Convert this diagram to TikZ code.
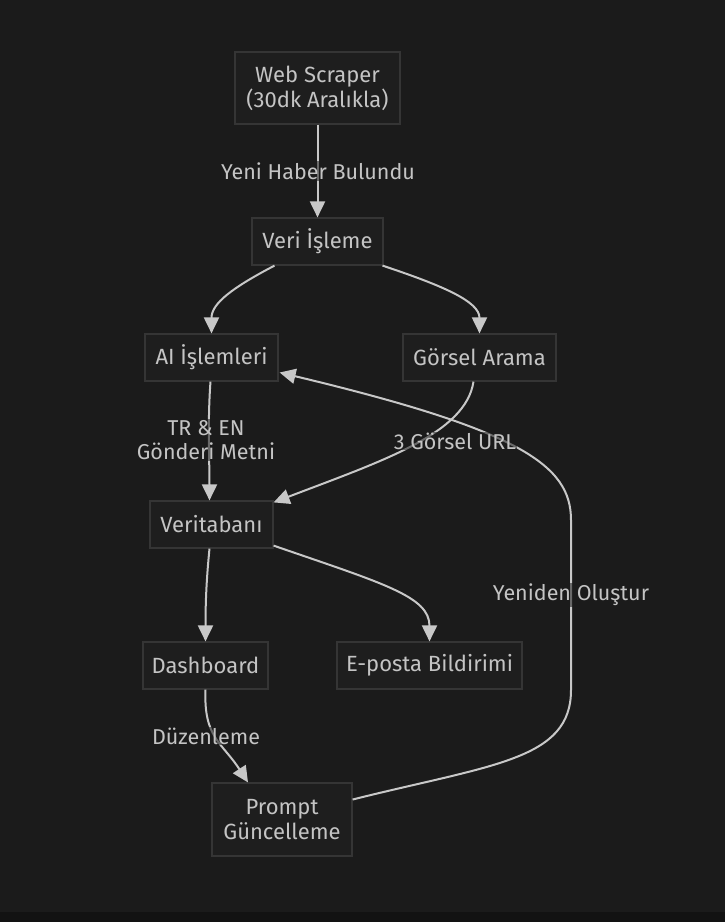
\documentclass[tikz,border=0pt]{standalone}
\usepackage{fontspec}
\setmainfont{Fira Sans}
\usetikzlibrary{arrows.meta,calc}
\definecolor{bgc}{HTML}{1B1B1B}
\definecolor{nodefill}{HTML}{1E1E1E}
\definecolor{nodeline}{HTML}{353535}
\definecolor{txt}{HTML}{C4C4C4}
\definecolor{edge}{HTML}{C8C8C8}
\definecolor{strip}{HTML}{121212}
\tikzset{
  box/.style={draw=nodeline, line width=1.2pt, fill=nodefill, text=txt, inner sep=0pt, align=center, font=\fontsize{22}{25}\selectfont},
  conn/.style={draw=edge, line width=2pt, -{Triangle[length=16pt,width=15pt,fill=edge]}},
  elabel/.style={fill=bgc, fill opacity=0.55, text opacity=1, text=txt, inner sep=1pt, align=center, font=\fontsize{21.5}{24}\selectfont},
}
\begin{document}
\begin{tikzpicture}[x=1pt,y=-1pt]
\fill[bgc] (0,0) rectangle (725,922);
\useasboundingbox (0,0) rectangle (725,922);
\fill[strip] (0,912) rectangle (725,922);

\node[box, minimum width=165pt, minimum height=72pt] (ws) at (317.5,88) {Web Scraper\\(30dk Aralıkla)};
\node[box, minimum width=131pt, minimum height=47pt] (vi) at (317.5,241.5) {Veri İşleme};
\node[box, minimum width=133pt, minimum height=47pt] (ai) at (211.5,357.5) {AI İşlemleri};
\node[box, minimum width=153pt, minimum height=47pt] (ga) at (479.5,357.5) {Görsel Arama};
\node[box, minimum width=123pt, minimum height=47pt] (db) at (211.5,524.5) {Veritabanı};
\node[box, minimum width=125pt, minimum height=47pt] (dash) at (205.5,665.5) {Dashboard};
\node[box, minimum width=185pt, minimum height=47pt] (ep) at (429.5,665.5) {E-posta Bildirimi};
\node[box, minimum width=140pt, minimum height=73pt] (pg) at (282,819.5) {Prompt\\Güncelleme};

% Web Scraper -> Veri Isleme
\draw[conn] (ws.south) -- (vi.north);
% Veri Isleme -> AI
\draw[conn] ($(vi.south)+(-43,0)$) .. controls ($(vi.south)+(-85,22)$) and ($(ai.north)+(0,-30)$) .. (ai.north);
% Veri Isleme -> Gorsel
\draw[conn] ($(vi.south)+(65,0)$) .. controls ($(vi.south)+(125,20)$) and ($(ga.north)+(0,-32)$) .. (ga.north);
% AI -> Veritabani
\draw[conn] ($(ai.south)+(-1,0)$) .. controls ($(ai.south)+(-4,40)$) and ($(db.north)+(-2,-40)$) .. ($(db.north)+(-2,0)$);
% Gorsel -> Veritabani
\draw[conn] ($(ga.south)+(-6,0)$) .. controls ($(ga.south)+(-14,52)$) and ($(db.north east)+(110,-40)$) .. ($(db.north east)+(0,2)$);
% Veritabani -> Dashboard
\draw[conn] ($(db.south)+(-2,0)$) .. controls ($(db.south)+(-5,30)$) and ($(dash.north)+(0,-40)$) .. (dash.north);
% Veritabani -> E-posta
\draw[conn] ($(db.south east)+(0,-3)$) .. controls ($(db.south east)+(110,35)$) and ($(ep.north)+(0,-45)$) .. (ep.north);
% Dashboard -> Prompt
\draw[conn] (dash.south) .. controls ($(dash.south)+(-2,48)$) and ($(pg.north)+(-60,-40)$) .. ($(pg.north)+(-34,0)$);
% Prompt -> AI
\coordinate (c1) at (571,690);
\coordinate (c2) at (571,520);
\draw[conn] ($(pg.east)+(0,-20)$) .. controls ($(pg.east)+(140,-55)$) and (571,760) .. (c1) -- (c2) .. controls (571,465) and (520,430) .. ($(ai.east)+(1,15)$);

% Edge labels
\node[elabel] at (318,171) {Yeni Haber Bulundu};
\node[elabel] at (206,440) {TR \& EN\\Gönderi Metni};
\node[elabel] at (455,441) {3 Görsel URL};
\node[elabel] at (206,736) {Düzenleme};
\node[elabel] at (571,595) {Yeniden Oluştur};
\end{tikzpicture}
\end{document}
